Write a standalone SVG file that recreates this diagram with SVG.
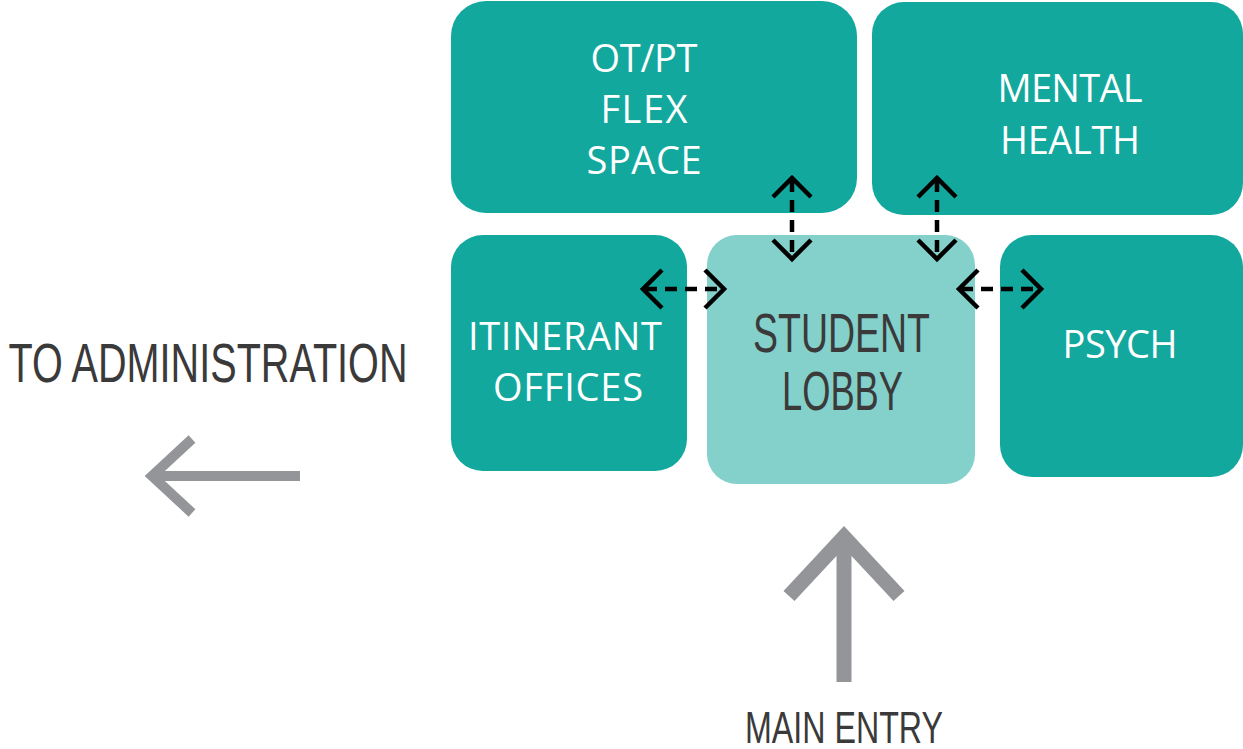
<svg xmlns="http://www.w3.org/2000/svg" width="1243" height="749" viewBox="0 0 1243 749">
<defs>
<style>
.box{fill:#12A89D}
.lobby{fill:#84D0CB}
.wt{font-family:"Open Sans","Noto Sans",sans-serif;font-size:38px;fill:#ffffff;text-anchor:middle}
.dk{font-family:"Liberation Sans Narrow","Liberation Sans",sans-serif;fill:#3a3a3a;text-anchor:middle}
.dash{stroke:#000;stroke-width:4.5;fill:none;stroke-dasharray:12 8}
.head{stroke:#000;stroke-width:4.5;fill:none}
.gray{stroke:#939598;fill:none;stroke-linejoin:miter;stroke-linecap:butt}
</style>
</defs>
<rect width="1243" height="749" fill="#ffffff"/>
<g id="otpt">
<rect class="box" x="451" y="1" width="406" height="212" rx="35"/>
<text class="wt" x="644" y="72" textLength="107">OT/PT</text>
<text class="wt" x="644" y="123" textLength="87">FLEX</text>
<text class="wt" x="644" y="174" textLength="115">SPACE</text>
</g>
<g id="mental">
<rect class="box" x="872" y="2" width="371" height="213" rx="32"/>
<text class="wt" x="1070" y="102" textLength="145">MENTAL</text>
<text class="wt" x="1070" y="154" textLength="140">HEALTH</text>
</g>
<g id="itinerant">
<rect class="box" x="451" y="235" width="236" height="236" rx="32"/>
<text class="wt" x="565" y="350" textLength="194">ITINERANT</text>
<text class="wt" x="568" y="401" textLength="150">OFFICES</text>
</g>
<g id="lobby">
<rect class="lobby" x="707" y="235" width="268" height="249" rx="30"/>
<text class="dk" x="841.5" y="352" font-size="56" textLength="177" lengthAdjust="spacingAndGlyphs">STUDENT</text>
<text class="dk" x="842.5" y="410" font-size="56" textLength="121" lengthAdjust="spacingAndGlyphs">LOBBY</text>
</g>
<g id="psych">
<rect class="box" x="1000" y="235" width="243" height="242" rx="32"/>
<text class="wt" x="1120" y="358" textLength="115">PSYCH</text>
</g>
<g id="admin">
<text class="dk" x="208" y="382" font-size="56" textLength="399" lengthAdjust="spacingAndGlyphs">TO ADMINISTRATION</text>
</g>
<g id="entry">
<text class="dk" x="844" y="743" font-size="44" textLength="198" lengthAdjust="spacingAndGlyphs">MAIN ENTRY</text>
</g>
<g id="connectors">
<line class="dash" x1="792" y1="180" x2="792" y2="258"/>
<polyline class="head" points="773,197 792,178 811,197"/>
<polyline class="head" points="773,240 792,259 811,240"/>
<line class="dash" x1="937" y1="180" x2="937" y2="258"/>
<polyline class="head" points="918,197 937,178 956,197"/>
<polyline class="head" points="918,240 937,259 956,240"/>
<line class="dash" x1="645" y1="289" x2="722" y2="289"/>
<polyline class="head" points="662,270 643,289 662,308"/>
<polyline class="head" points="705,270 724,289 705,308"/>
<line class="dash" x1="961" y1="289" x2="1039" y2="289"/>
<polyline class="head" points="978,270 959,289 978,308"/>
<polyline class="head" points="1022,270 1041,289 1022,308"/>
<line class="gray" x1="300" y1="476" x2="152" y2="476" stroke-width="10"/>
<polyline class="gray" points="192,439 152,476 192,513" stroke-width="10"/>
<line class="gray" x1="844" y1="682" x2="844" y2="536" stroke-width="15"/>
<polyline class="gray" points="789,596 844,537 899,596" stroke-width="15"/>
</g>
</svg>
